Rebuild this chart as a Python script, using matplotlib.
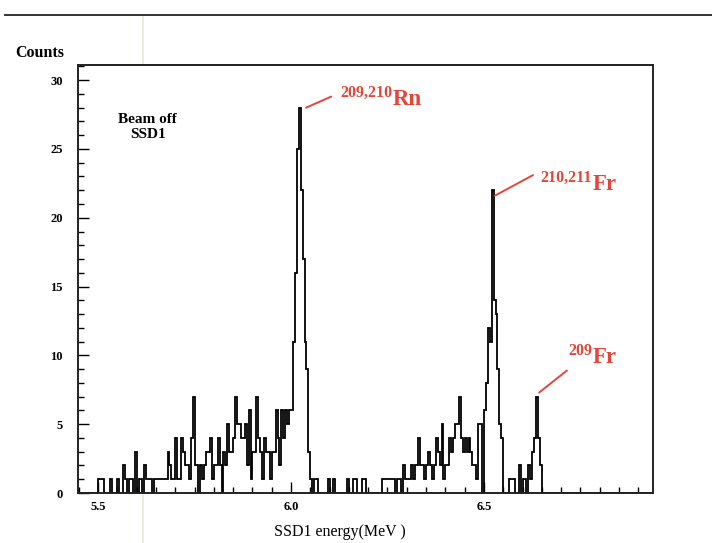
import matplotlib
matplotlib.use("Agg")
import matplotlib.pyplot as plt
import numpy as np
from matplotlib.lines import Line2D
from matplotlib.ticker import MultipleLocator

# histogram: 5 keV bins starting at 5.45 MeV
e_start = 5.45
bin_width = 0.005

# 5.450 - 5.725 MeV
counts_low = [0, 0, 0, 0, 0, 0, 0, 0, 0, 0, 1, 1, 1, 0, 0, 0, 1, 0, 0, 0,
              1, 0, 0, 2, 1, 0, 1, 1, 0, 3, 0, 1, 1, 0, 2, 1, 1, 1, 0, 1,
              1, 1, 1, 1, 1, 1, 3, 2, 1, 1, 4, 1, 1, 4, 3]
# 5.725 - 6.075 MeV (209,210Rn peak)
counts_rn = [2, 2, 1, 4, 7, 2, 2, 0, 2, 1, 2, 3, 3, 4, 1, 2, 2, 4, 2, 0,
             3, 2, 5, 3, 3, 4, 7, 5, 5, 4, 4, 5, 2, 6, 1, 3, 3, 7, 4, 3,
             1, 4, 3, 3, 1, 3, 3, 6, 4, 2, 6,
             4, 6, 5, 6, 6, 11, 16, 25, 28, 22, 17, 11, 9, 3, 1, 0, 1, 1, 0]
# 6.075 - 6.480 MeV
counts_mid = [0, 0, 0, 0, 1, 0, 0, 1, 0, 0, 0, 0, 0, 0, 1, 0, 0, 1, 1, 0,
              0, 0, 1, 1, 0, 0, 0, 0, 0, 0, 0, 0, 1, 1, 1, 1, 1, 1, 1, 0,
              1, 1, 0, 2, 1, 1, 1, 2, 1, 2, 2,
              4, 2, 2, 1, 2, 3, 2, 1, 2, 4, 3, 2, 5, 1, 2, 2, 4, 3, 4, 5,
              5, 7, 4, 3, 4, 3, 4, 3, 2, 2]
# 6.480 - 6.940 MeV (210,211Fr and 209Fr peaks)
counts_fr = [1, 5, 5, 0, 6, 8, 12, 11, 22, 14, 13, 9, 5, 4, 0, 0, 0, 1, 1, 1,
             0, 0, 2, 0, 1, 1, 0, 2, 1, 3, 4, 7, 4, 2] + [0] * 58

counts = np.array(counts_low + counts_rn + counts_mid + counts_fr)
edges = e_start + bin_width * np.arange(len(counts) + 1)

serif = "Liberation Serif"
red = "#e2463a"

fig = plt.figure(figsize=(7.12, 5.43), dpi=100)
ax = fig.add_axes([78 / 712, 50 / 543, 575 / 712, 428 / 543])

ax.stairs(counts, edges, baseline=0, color="black", lw=1.3)

ax.set_xlim(5.448, 6.938)
ax.set_ylim(0, 31.1)

ax.xaxis.set_major_locator(MultipleLocator(0.5))
ax.xaxis.set_minor_locator(MultipleLocator(0.05))
ax.yaxis.set_major_locator(MultipleLocator(5))
ax.yaxis.set_minor_locator(MultipleLocator(1))
ax.tick_params(which="both", direction="in", top=False, right=False,
               width=1.0, labelsize=9)
ax.tick_params(which="major", length=8)
ax.tick_params(which="minor", length=4)
ax.tick_params(axis="y", pad=11)
ax.tick_params(axis="x", pad=6)
ax.set_xticks([5.5, 6.0, 6.5], ["5.5", "6.0", "6.5"])
for lab in ax.get_xticklabels() + ax.get_yticklabels():
    lab.set_fontfamily(serif)
    lab.set_fontweight("bold")
for s in ax.spines.values():
    s.set_linewidth(1.4)
    s.set_color("#222222")

# labels
fig.text(15 / 712, 1 - 53 / 543, "Counts", family=serif, weight="bold",
         fontsize=11.5, va="center", ha="left")
fig.text(340 / 712, 1 - 532 / 543, "SSD1 energy(MeV )", family=serif,
         fontsize=11.5, va="center", ha="center")
ax.text(5.629, 26.6, "Beam off\nSSD1", family=serif, weight="bold",
        fontsize=11, ha="center", va="center", linespacing=1.2)

# peak labels
peaks = [
    # line start, line end, mass-number baseline, symbol pos, mass, element
    ((6.039, 28.0), (6.104, 28.8), 28.8, (6.264, 28.2), "209,210", "Rn"),
    ((6.528, 21.6), (6.627, 23.1), 22.6, (6.782, 22.0), "210,211", "Fr"),
    ((6.643, 7.3), (6.715, 8.9), 10.0, (6.782, 9.45), "209", "Fr"),
]
for p0, p1, sup_y, sym_xy, mass, elem in peaks:
    ax.plot([p0[0], p1[0]], [p0[1], p1[1]], color=red, lw=1.4,
            solid_capstyle="round")
    ax.text(sym_xy[0] - 0.002, sup_y, mass, family=serif, weight="bold",
            fontsize=11.5, color=red, ha="right", va="baseline")
    ax.text(*sym_xy, elem, family=serif, weight="bold", fontsize=16.5,
            color=red, ha="left", va="baseline")

# top rule of the page and faint scan line
fig.add_artist(Line2D([5 / 712, 1], [1 - 15 / 543] * 2, transform=fig.transFigure,
                      color="#333333", lw=1.4))
fig.add_artist(Line2D([143 / 712] * 2, [0, 1 - 15 / 543], transform=fig.transFigure,
                      color="#ebe8e2", lw=1.2, zorder=0))

fig.savefig("out.png", dpi=100)
